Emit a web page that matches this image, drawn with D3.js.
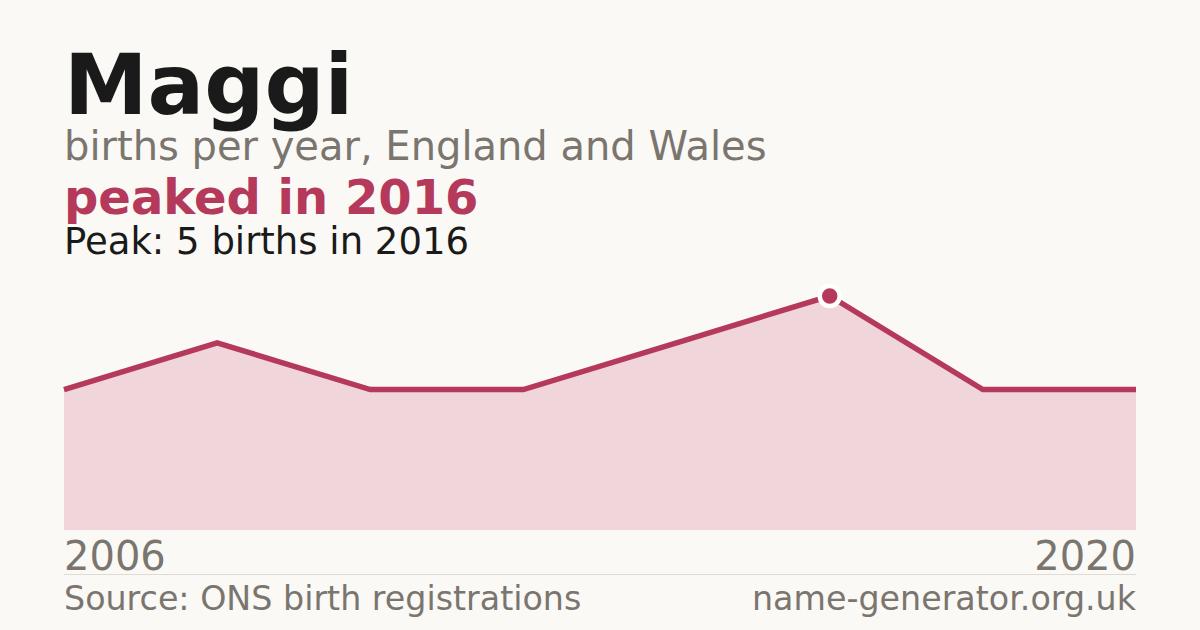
<!DOCTYPE html>
<html><head><meta charset="utf-8">
<script src="https://cdn.jsdelivr.net/npm/d3@7"></script>
<style>
html,body{margin:0;padding:0;background:#faf9f5;}
svg{display:block;font-family:"DejaVu Sans",sans-serif;}
</style></head>
<body>
<svg id="c" width="1200" height="630"></svg>
<script>
const years = [2006, 2008, 2010, 2012, 2014, 2016, 2018, 2020];
const births = [3, 4, 3, 3, 4, 5, 3, 3];
const axisLabels = ["2006", "2020"];
const nameTitle = "Maggi";
const subtitle = "births per year, England and Wales";
const headline = "peaked in 2016";
const peakText = "Peak: 5 births in 2016";
const sourceText = "Source: ONS birth registrations";
const siteText = "name-generator.org.uk";

const svg = d3.select("#c");
const red = "#b5395a";
const grey = "#7a756e";
svg.append("rect").attr("width",1200).attr("height",630).attr("fill","#faf9f5");

const x = d3.scaleLinear().domain([years[0], years[years.length-1]]).range([64, 1136]);
const y = d3.scaleLinear().domain([0, d3.max(births)]).range([530, 296]);
const data = years.map((yr,i)=>({yr, v:births[i]}));

svg.append("path").datum(data)
  .attr("fill","#f0d5da")
  .attr("d", d3.area().x(d=>x(d.yr)).y0(y(0)).y1(d=>y(d.v)));
svg.append("path").datum(data)
  .attr("fill","none").attr("stroke",red).attr("stroke-width",5.5)
  .attr("stroke-linejoin","miter")
  .attr("d", d3.line().x(d=>x(d.yr)).y(d=>y(d.v)));
const pk = data[d3.maxIndex(data, d=>d.v)];
svg.append("circle").attr("cx",x(pk.yr)).attr("cy",y(pk.v)).attr("r",10)
  .attr("fill",red).attr("stroke","#ffffff").attr("stroke-width",4.5);

svg.append("text").attr("x",64).attr("y",114).attr("font-size",84).attr("font-weight","bold").attr("fill","#1a1a1a").text(nameTitle);
svg.append("text").attr("x",64).attr("y",160).attr("font-size",40).attr("fill",grey).text(subtitle);
svg.append("text").attr("x",64).attr("y",214).attr("font-size",48).attr("font-weight","bold").attr("fill",red).text(headline);
svg.append("text").attr("x",64).attr("y",254).attr("font-size",37).attr("fill","#1a1a1a").text(peakText);

svg.append("text").attr("x",x(years[0])).attr("y",570).attr("font-size",40).attr("fill",grey).text(axisLabels[0]);
svg.append("text").attr("x",x(years[years.length-1])).attr("y",570).attr("font-size",40).attr("fill",grey).attr("text-anchor","end").text(axisLabels[1]);
svg.append("line").attr("x1",64).attr("x2",1136).attr("y1",574.5).attr("y2",574.5).attr("stroke","#dedbd5").attr("stroke-width",1);
svg.append("text").attr("x",64).attr("y",610).attr("font-size",33.3).attr("fill",grey).text(sourceText);
svg.append("text").attr("x",1136).attr("y",610).attr("font-size",33.3).attr("fill",grey).attr("text-anchor","end").text(siteText);
</script>
</body></html>
